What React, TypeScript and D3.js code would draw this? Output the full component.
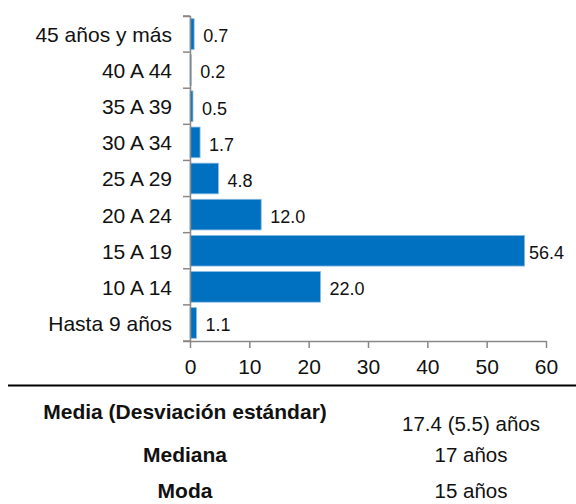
import React, { useEffect, useRef } from "react";
import * as d3 from "d3";

const categories = [
  "45 años y más",
  "40 A 44",
  "35 A 39",
  "30 A 34",
  "25 A 29",
  "20 A 24",
  "15 A 19",
  "10 A 14",
  "Hasta 9 años",
];
const values = [0.7, 0.2, 0.5, 1.7, 4.8, 12.0, 56.4, 22.0, 1.1];
const xTicks = [0, 10, 20, 30, 40, 50, 60];

const statLabels = ["Media (Desviación estándar)", "Mediana", "Moda"];
const statValues = ["17.4 (5.5) años", "17 años", "15 años"];

const W = 576;
const H = 504;
const font = "Liberation Sans, Arial, sans-serif";

export default function App() {
  const ref = useRef<SVGSVGElement>(null);

  useEffect(() => {
    const svg = d3.select(ref.current);
    svg.selectAll("*").remove();

    const x = d3.scaleLinear().domain([0, 60]).range([190, 546]);
    const y = d3.scaleBand().domain(categories).range([16, 341]).paddingInner(0.15).paddingOuter(0.075);

    const g = svg.append("g");

    // bars
    g.selectAll("rect")
      .data(values)
      .enter()
      .append("rect")
      .attr("x", x(0))
      .attr("y", (d, i) => y(categories[i])!)
      .attr("width", (d) => x(d) - x(0))
      .attr("height", y.bandwidth())
      .attr("fill", "#0070C0")
      .attr("stroke", "#8fbde3")
      .attr("stroke-width", 0.8);

    // value labels, kept inside the right edge like the original
    g.selectAll("text.val")
      .data(values)
      .enter()
      .append("text")
      .attr("class", "val")
      .attr("y", (d, i) => y(categories[i])! + y.bandwidth() / 2 + 2)
      .attr("dy", "0.35em")
      .style("font-family", font)
      .style("font-size", "18px")
      .attr("fill", "#111")
      .text((d) => d.toFixed(1))
      .attr("x", function (d) {
        const w = (this as SVGTextElement).getComputedTextLength();
        return Math.min(x(d) + 9, 564 - w);
      });

    // y axis
    const yAxis = d3.axisLeft(y).tickSize(0).tickSizeOuter(7).tickPadding(18);
    const ya = g.append("g").attr("transform", `translate(${x(0)},0)`).call(yAxis);
    ya.select("path").attr("stroke", "#888").attr("stroke-width", 1.5);
    const bounds = d3.range(categories.length + 1).map((i) => 16 + (i * (341 - 16)) / categories.length);
    ya.selectAll("line.b")
      .data(bounds)
      .enter()
      .append("line")
      .attr("class", "b")
      .attr("x1", -7)
      .attr("x2", 0)
      .attr("y1", (d) => d)
      .attr("y2", (d) => d)
      .attr("stroke", "#888")
      .attr("stroke-width", 1.5);
    ya.selectAll(".tick text")
      .attr("dy", "0.38em")
      .style("font-family", font)
      .style("font-size", "21px")
      .attr("fill", "#111");

    // x axis
    const xAxis = d3.axisBottom(x).tickValues(xTicks).tickSize(7).tickSizeOuter(0).tickPadding(11);
    const xa = g.append("g").attr("transform", `translate(0,341)`).call(xAxis);
    xa.selectAll("line, path").attr("stroke", "#888").attr("stroke-width", 1.5);
    xa.selectAll(".tick text")
      .style("font-family", font)
      .style("font-size", "21px")
      .attr("fill", "#111");

    // separator line
    svg.append("line")
      .attr("x1", 8)
      .attr("x2", 576)
      .attr("y1", 385.5)
      .attr("y2", 385.5)
      .attr("stroke", "#000")
      .attr("stroke-width", 2);

    // stats table
    const labelY = [412, 455, 491];
    const valueY = [424, 455, 491];
    svg.selectAll("text.sl")
      .data(statLabels)
      .enter()
      .append("text")
      .attr("class", "sl")
      .attr("x", 185)
      .attr("y", (d, i) => labelY[i])
      .attr("dy", "0.35em")
      .attr("text-anchor", "middle")
      .style("font-family", font)
      .style("font-size", "21px")
      .style("font-weight", "bold")
      .attr("fill", "#111")
      .text((d) => d);
    svg.selectAll("text.sv")
      .data(statValues)
      .enter()
      .append("text")
      .attr("class", "sv")
      .attr("x", 471)
      .attr("y", (d, i) => valueY[i])
      .attr("dy", "0.35em")
      .attr("text-anchor", "middle")
      .style("font-family", font)
      .style("font-size", "20.5px")
      .attr("fill", "#111")
      .text((d) => d);
  }, []);

  return (
    <svg
      ref={ref}
      width={W}
      height={H}
      style={{ position: "absolute", left: 0, top: 0, background: "#fff" }}
    />
  );
}
